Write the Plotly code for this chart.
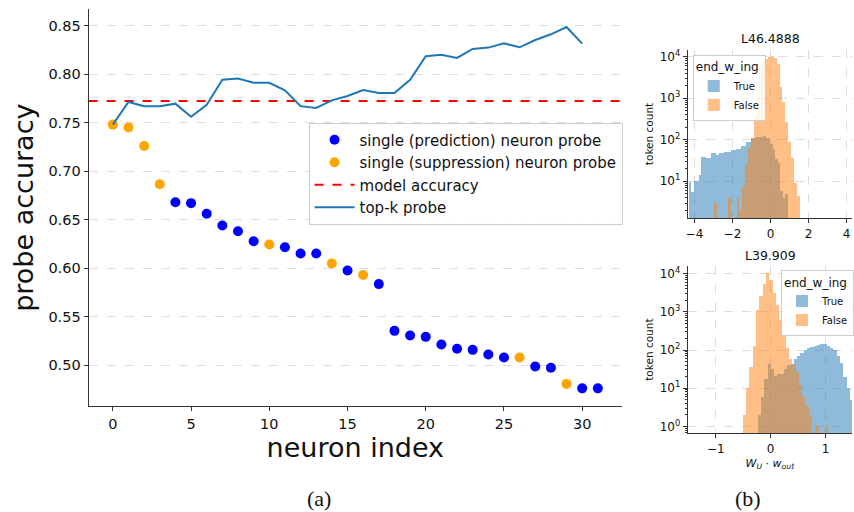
import plotly.graph_objects as go

# ---------------- data: panel (a) ----------------
neuron_index = list(range(32))
neuron_acc = [0.748, 0.745, 0.726, 0.6865, 0.668, 0.667, 0.656, 0.644, 0.638, 0.6277,
              0.6243, 0.6215, 0.615, 0.615, 0.6048, 0.5976, 0.5928, 0.5835, 0.5353, 0.5305,
              0.5291, 0.5212, 0.5168, 0.5157, 0.511, 0.5079, 0.5079, 0.4986, 0.4973, 0.4806,
              0.476, 0.476]
neuron_kind = ["supp", "supp", "supp", "supp", "pred", "pred", "pred", "pred", "pred", "pred",
               "supp", "pred", "pred", "pred", "supp", "pred", "supp", "pred", "pred", "pred",
               "pred", "pred", "pred", "pred", "pred", "pred", "supp", "pred", "pred", "supp",
               "pred", "pred"]
topk_k = list(range(31))
topk_acc = [0.748, 0.7713, 0.767, 0.767, 0.7696, 0.756, 0.7685, 0.7942, 0.7956, 0.7911,
            0.7911, 0.7833, 0.767, 0.7651, 0.773, 0.7775, 0.7836, 0.7805, 0.7805, 0.7942,
            0.8185, 0.8199, 0.8168, 0.826, 0.8274, 0.8318, 0.8277, 0.8352, 0.8411, 0.8486,
            0.8315]
model_accuracy = 0.7723

# ---------------- data: panel (b) histograms ----------------
top_title = "L46.4888"
top_true_start, top_true_width = -4.30, 0.13
top_true_counts = [9.5, 5.5, 10, 10, 14, 40, 40, 36, 36, 48, 48, 44, 48, 48, 50, 50, 50, 58, 58, 61,
                   61, 73, 73, 88, 88, 110, 110, 115, 120, 120, 125, 114, 114, 80, 60, 35, 28, 6, 4, 5]
top_false_start, top_false_width = -3.0, 0.1507
top_false_counts = [3, None, None, None, None, 4, None, None, 4, 2, 8, 27, 69, 110, 400, 1300, 4400,
                    7600, 9000, 10000, 10500, 9500, 6900, 1900, 830, 275, 91, 36, 9, 4.4]

bot_title = "L39.909"
bot_true_start, bot_true_width = -0.24, 0.06
bot_true_counts = [2, 6, 17, 43, 31, 21, 23, 24, 31, 40, 43, 58, 70, 85, 100, 110, 120, 130, 135,
                   140, 140, 130, 110, 100, 70, 45, 20, 10, 5]
bot_false_start, bot_false_width = -0.51, 0.06
bot_false_counts = [2, 10, 35, 126, 1150, 2600, 5200, 10400, 7000, 3150, 1500, 600, 250, 110, 60,
                    40, 26, 12, 6, 3.5, 2, None, 1, None, None, 1]

legend_title = "end_w_ing"
hue_names = ["True", "False"]

# ---------------- styling ----------------
FONT = "DejaVu Sans"
W, H = 854, 512
BLUE_T = "rgba(31,119,180,0.5)"
ORANGE_F = "rgba(255,127,14,0.5)"
AXC = "#333333"
GRIDC = "#dddddd"


def centers(start, width, counts):
    return [start + width * (i + 0.5) for i in range(len(counts))]


fig = go.Figure()

pred_x = [i for i, k in zip(neuron_index, neuron_kind) if k == "pred"]
pred_y = [a for a, k in zip(neuron_acc, neuron_kind) if k == "pred"]
supp_x = [i for i, k in zip(neuron_index, neuron_kind) if k == "supp"]
supp_y = [a for a, k in zip(neuron_acc, neuron_kind) if k == "supp"]

fig.add_trace(go.Scatter(x=pred_x, y=pred_y, mode="markers", name="single (prediction) neuron probe",
                         marker=dict(color="blue", size=10), legend="legend", xaxis="x", yaxis="y"))
fig.add_trace(go.Scatter(x=supp_x, y=supp_y, mode="markers", name="single (suppression) neuron probe",
                         marker=dict(color="orange", size=10), legend="legend", xaxis="x", yaxis="y"))

xmin, xmax = min(neuron_index), max(neuron_index)
pad = 0.05 * (xmax - xmin)
xr = [xmin - pad, xmax + pad]
fig.add_trace(go.Scatter(x=xr, y=[model_accuracy, model_accuracy], mode="lines", name="model accuracy",
                         line=dict(color="red", width=2, dash="dash"), legend="legend",
                         xaxis="x", yaxis="y"))
fig.add_trace(go.Scatter(x=topk_k, y=topk_acc, mode="lines", name="top-k probe",
                         line=dict(color="#1f77b4", width=2), legend="legend", xaxis="x", yaxis="y"))

# histograms
for (start, width, counts, color, name, leg, xa, ya) in [
    (top_true_start, top_true_width, top_true_counts, BLUE_T, hue_names[0], "legend2", "x2", "y2"),
    (top_false_start, top_false_width, top_false_counts, ORANGE_F, hue_names[1], "legend2", "x2", "y2"),
    (bot_true_start, bot_true_width, bot_true_counts, BLUE_T, hue_names[0], "legend3", "x3", "y3"),
    (bot_false_start, bot_false_width, bot_false_counts, ORANGE_F, hue_names[1], "legend3", "x3", "y3"),
]:
    fig.add_trace(go.Bar(x=centers(start, width, counts), y=counts, width=width,
                         marker=dict(color=color, line=dict(width=0)), name=name,
                         legend=leg, xaxis=xa, yaxis=ya))

# y range for main
ymin, ymax = min(neuron_acc + topk_acc), max(neuron_acc + topk_acc)
ypad = 0.05 * (ymax - ymin)

decades = [0, 1, 2, 3, 4]
log_vals = [10 ** d for d in decades]
log_text = ["10<sup>%d</sup>" % d for d in decades]
minor_vals = [m * 10 ** d for d in [-1, 0, 1, 2, 3, 4] for m in range(2, 10)]

common_axis = dict(showline=True, linecolor=AXC, linewidth=1, ticks="outside", ticklen=4,
                   tickcolor=AXC, zeroline=False, mirror=False, ticklabeloverflow="allow")

fig.update_layout(
    width=W, height=H, margin=dict(l=0, r=0, t=0, b=0),
    paper_bgcolor="white", plot_bgcolor="white",
    font=dict(family=FONT, color="#111111"),
    barmode="overlay", bargap=0,
    showlegend=True,
    xaxis=dict(domain=[87 / W, 623 / W], range=xr, tickvals=[0, 5, 10, 15, 20, 25, 30],
               showgrid=False, tickfont=dict(size=14.5), anchor="y",
               title=dict(text="neuron index", font=dict(size=27), standoff=6), **common_axis),
    yaxis=dict(domain=[1 - 406 / H, 1 - 7 / H], range=[ymin - ypad, ymax + ypad], dtick=0.05,
               tickformat=".2f", showgrid=True, gridcolor=GRIDC, griddash="dash", gridwidth=1,
               tickfont=dict(size=14.5), anchor="x",
               title=dict(text="probe accuracy", font=dict(size=27), standoff=6), **common_axis),
    xaxis2=dict(domain=[689 / W, 1.0], range=[-4.35, 4.29], tickvals=[-4, -2, 0, 2, 4],
                showgrid=True, gridcolor=GRIDC, griddash="dash", tickfont=dict(size=12),
                anchor="y2", **common_axis),
    yaxis2=dict(domain=[1 - 217 / H, 1 - 48 / H], type="log", range=[0.112, 4.168],
                tickvals=log_vals, ticktext=log_text, showgrid=True, gridcolor=GRIDC,
                griddash="dash", tickfont=dict(size=12), anchor="x2",
                minor=dict(tickvals=minor_vals, ticks="outside", ticklen=2, tickcolor=AXC,
                           showgrid=False),
                title=dict(text="token count", font=dict(size=10.5), standoff=4), **common_axis),
    xaxis3=dict(domain=[689 / W, 1.0], range=[-1.51, 1.483], tickvals=[-1, 0, 1],
                showgrid=True, gridcolor=GRIDC, griddash="dash", tickfont=dict(size=12),
                anchor="y3",
                title=dict(text="<i>W</i><sub><i>U</i></sub> \u00b7 <i>w</i><sub><i>out</i></sub>",
                           font=dict(size=11), standoff=4), **common_axis),
    yaxis3=dict(domain=[1 - 433 / H, 1 - 265 / H], type="log", range=[-0.18, 4.2],
                tickvals=log_vals, ticktext=log_text, showgrid=True, gridcolor=GRIDC,
                griddash="dash", tickfont=dict(size=12), anchor="x3",
                minor=dict(tickvals=minor_vals, ticks="outside", ticklen=2, tickcolor=AXC,
                           showgrid=False),
                title=dict(text="token count", font=dict(size=10.5), standoff=4), **common_axis),
    legend=dict(x=308 / W, y=1 - 121 / H, xanchor="left", yanchor="top",
                bordercolor="#cccccc", borderwidth=1, bgcolor="rgba(255,255,255,0.85)",
                font=dict(size=15), tracegroupgap=0, itemwidth=40),
    legend2=dict(x=694 / W, y=1 - 53 / H, xanchor="left", yanchor="top",
                 bordercolor="#cccccc", borderwidth=1, bgcolor="rgba(255,255,255,0.85)",
                 font=dict(size=10), title=dict(text=legend_title, side="top"),
                 tracegroupgap=0, itemwidth=30),
    legend3=dict(x=783 / W, y=1 - 269 / H, xanchor="left", yanchor="top",
                 bordercolor="#cccccc", borderwidth=1, bgcolor="rgba(255,255,255,0.85)",
                 font=dict(size=10), title=dict(text=legend_title, side="top"),
                 tracegroupgap=0, itemwidth=30),
    annotations=[
        dict(text=top_title, x=772 / W, y=1 - 37 / H, xref="paper", yref="paper",
             showarrow=False, font=dict(size=12.5), xanchor="center", yanchor="middle"),
        dict(text=bot_title, x=772 / W, y=1 - 254 / H, xref="paper", yref="paper",
             showarrow=False, font=dict(size=12.5), xanchor="center", yanchor="middle"),
        dict(text="(a)", x=318 / W, y=0, xref="paper", yref="paper", showarrow=False,
             font=dict(size=22, family="Liberation Serif"), xanchor="center", yanchor="bottom",
             borderpad=0),
        dict(text="(b)", x=750 / W, y=0, xref="paper", yref="paper", showarrow=False,
             font=dict(size=22, family="Liberation Serif"), xanchor="center", yanchor="bottom",
             borderpad=0),
    ],
)

fig.write_html("out.html", config={"displayModeBar": False},
               post_script="document.body.style.margin='0px';document.body.style.overflow='hidden';")
